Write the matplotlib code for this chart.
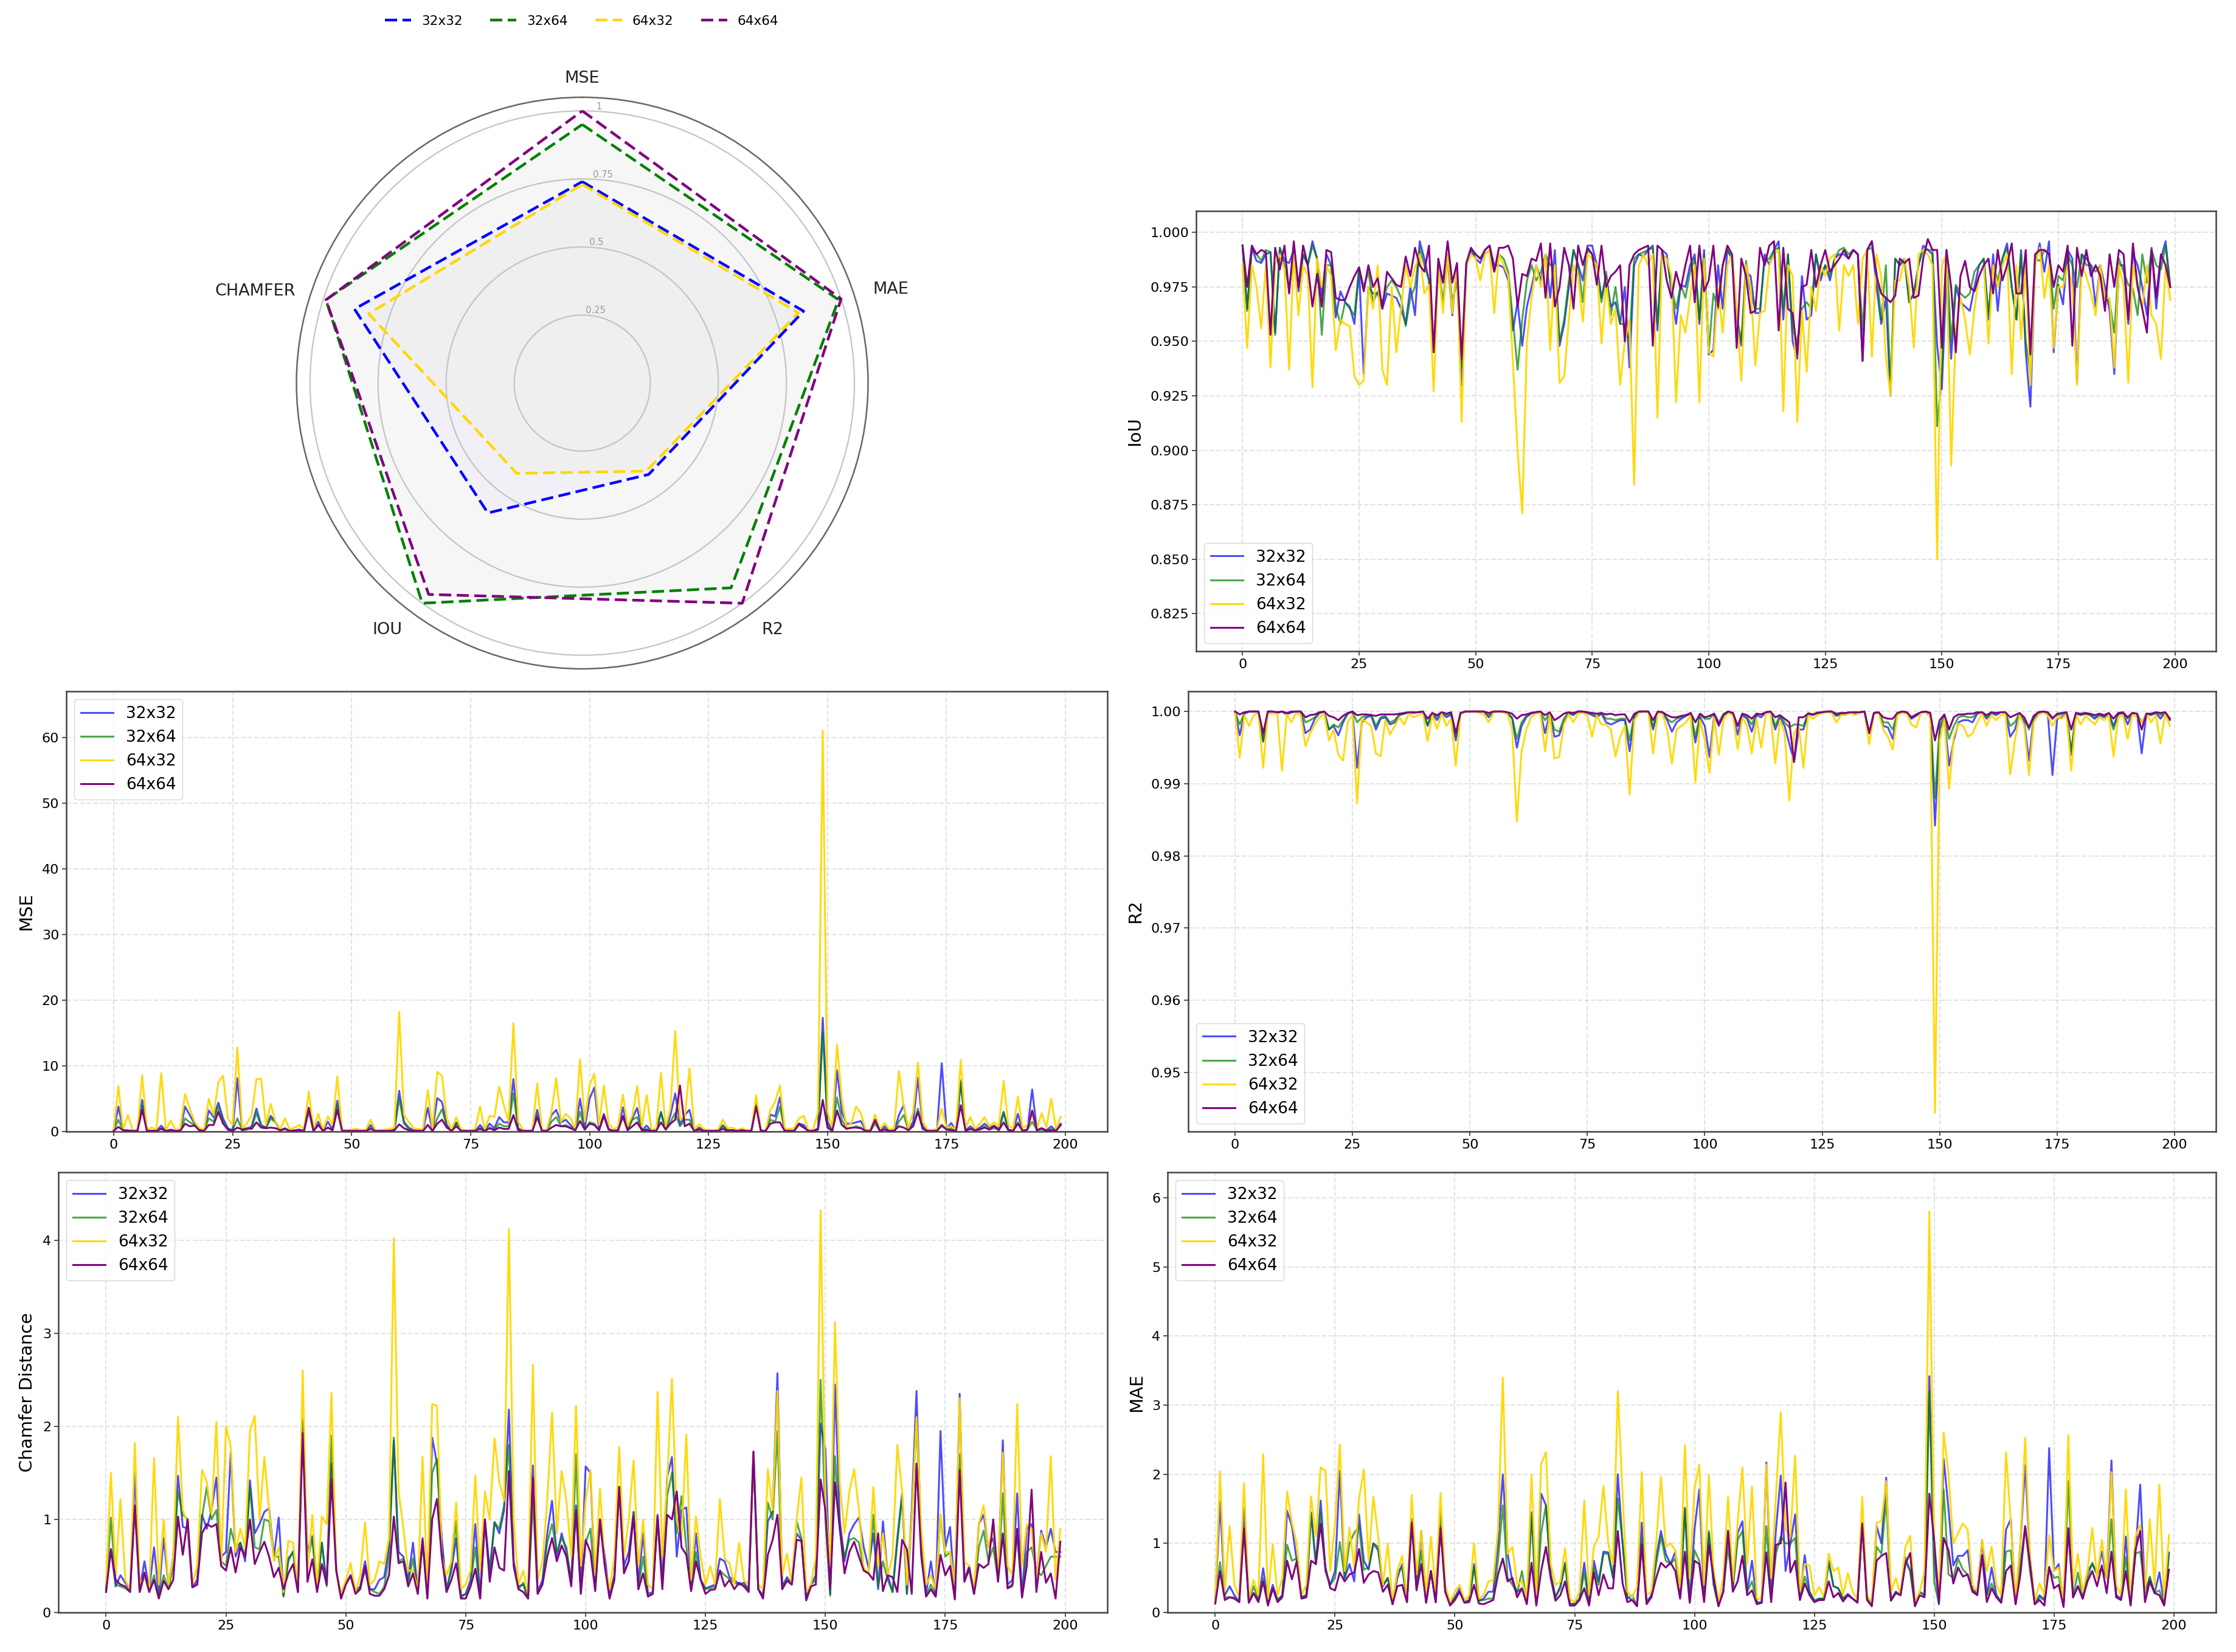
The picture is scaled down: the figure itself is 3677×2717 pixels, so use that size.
import numpy as np
import matplotlib
matplotlib.use("Agg")
import matplotlib.pyplot as plt
from matplotlib.lines import Line2D

W, H = 3677, 2717

names = ["32x32", "32x64", "64x32", "64x64"]
colors = ["blue", "green", "#FFD700", "purple"]
alphas = [0.7, 0.7, 0.95, 1.0]

# radar values
radar_labels = ["MSE", "MAE", "R2", "IOU", "CHAMFER"]
radar_3232 = [0.74, 0.855, 0.415, 0.59, 0.88]
radar_3264 = [0.95, 0.99, 0.93, 1.0, 0.99]
radar_6432 = [0.73, 0.835, 0.40, 0.41, 0.825]
radar_6464 = [1.0, 1.0, 1.0, 0.96, 0.99]

# MSE, in tenths
mse_3232 = [1,38,2,2,1,1,48,1,1,1, 9,1,3,1,1,38,25,12,2,1, 32,22,44,20,5,2,81,2,4,8, 35,10,6,24,15,2,5,1,2,3,
            1,36,1,15,1,15,3,47,2,1, 1,1,1,1,10,1,1,1,1,3, 62,15,6,2,1,1,36,1,51,45, 10,1,14,1,1,1,1,10,1,12,
            5,22,14,14,80,5,1,1,1,33, 1,1,25,33,14,18,10,2,50,5, 50,67,3,27,4,1,2,37,3,20, 36,2,9,1,1,30,3,25,58,10,
            25,33,1,6,2,1,1,1,8,2, 2,1,2,1,1,42,1,1,26,23, 52,1,1,1,12,10,1,1,5,173, 15,2,93,30,12,12,14,16,2,1,
            17,1,8,1,1,25,40,2,15,82, 8,1,1,1,104,4,13,1,75,2, 8,2,6,12,6,9,4,30,3,1, 27,1,3,64,2,5,2,8,1,12]
mse_3264 = [1,18,1,1,1,1,38,1,1,1, 5,1,2,1,1,20,14,10,2,1, 20,15,38,15,3,2,20,2,3,6, 28,8,5,20,14,2,4,1,1,2,
            1,30,1,10,1,6,2,40,2,1, 1,1,1,1,6,1,1,1,1,2, 50,12,4,1,1,1,10,1,20,34, 8,1,13,1,1,1,1,6,1,6,
            3,12,8,8,58,3,1,1,1,25, 1,1,15,22,8,10,6,2,30,3, 14,12,2,24,3,1,2,22,2,18, 22,2,4,1,1,28,3,15,28,8,
            18,18,1,4,1,1,1,1,10,2, 2,1,2,1,1,40,1,1,18,15, 38,1,1,1,10,6,1,1,3,150, 10,1,52,18,5,5,8,6,1,1,
            12,1,4,1,1,15,25,2,10,35, 5,1,1,1,8,3,5,1,78,2, 4,2,4,8,3,5,3,28,2,1, 14,1,3,15,2,3,1,4,1,10]
mse_6432 = [2,69,3,25,2,2,86,3,6,3, 89,2,17,2,5,57,35,15,5,3, 50,25,75,85,20,10,128,5,12,25, 80,80,10,42,15,3,20,3,6,10,
            3,61,3,27,3,23,10,84,3,2, 3,4,2,3,18,2,2,3,4,6, 182,25,15,5,4,3,63,5,91,84, 20,3,22,3,2,1,5,38,3,24,
            22,68,40,15,165,15,3,1,2,73, 3,2,30,81,15,27,20,4,110,15, 70,88,10,70,12,3,8,56,8,25, 69,8,55,3,4,89,8,35,153,20,
            20,96,3,11,4,2,2,3,18,5, 6,2,5,2,2,55,2,2,33,45, 70,5,4,5,20,24,2,3,30,610, 30,6,132,50,8,12,38,28,3,2,
            26,3,13,3,5,92,40,5,30,105, 15,3,2,4,35,6,8,3,109,5, 22,4,12,22,8,14,8,77,10,4, 53,5,10,25,5,28,6,50,4,22]
mse_6464 = [1,7,2,1,1,1,33,1,1,1, 4,1,2,1,1,12,8,9,2,1, 10,10,30,12,3,1,6,3,5,4, 14,6,5,6,5,2,4,1,1,2,
            1,36,1,10,1,6,2,33,1,1, 1,1,1,1,4,1,1,1,1,2, 11,5,2,1,1,1,10,1,12,18, 6,1,8,1,1,1,1,4,1,5,
            2,6,4,4,25,2,1,1,1,22, 1,1,6,10,8,8,5,2,16,3, 12,10,2,24,3,1,2,24,2,8, 14,2,2,1,1,14,3,12,18,70,
            8,12,1,3,1,1,1,1,4,1, 2,1,2,1,1,38,1,1,12,14, 14,1,1,1,12,6,1,1,3,48, 6,1,32,10,4,6,6,5,1,1,
            18,1,3,1,1,8,6,2,8,30, 4,1,1,1,10,3,2,1,40,1, 4,2,3,6,3,8,2,14,2,1, 12,1,3,32,2,5,1,2,1,10]

# IoU, in thousandths
iou_3232 = [994,965,993,987,986,990,991,954,993,987, 986,992,973,990,985,996,988,971,990,985, 961,973,968,966,958,983,935,975,972,972,
            965,972,971,970,965,958,975,962,996,988, 978,945,985,977,988,962,985,930,985,992, 988,986,992,994,985,985,984,978,955,968,
            948,966,975,985,978,990,970,992,948,958, 975,992,985,978,994,994,985,970,980,966, 968,958,975,938,985,990,989,992,994,955,
            992,990,973,958,976,975,985,990,958,992, 944,946,985,965,992,988,960,948,982,980, 963,963,990,985,992,996,960,990,950,942,
            980,960,962,990,978,985,978,988,990,990, 988,992,990,941,992,996,975,958,970,925, 988,985,988,968,972,985,994,992,990,948,
            928,980,942,975,968,966,964,975,985,988, 960,990,964,988,995,975,960,992,945,920, 985,995,982,996,945,976,967,992,988,931,
            990,988,985,966,985,975,964,935,985,985, 958,990,985,975,962,993,965,988,996,975]
iou_3264 = [994,964,993,990,987,992,991,953,993,985, 974,992,975,990,985,994,988,953,985,985, 966,958,968,965,962,984,975,982,968,973,
            968,975,978,975,970,957,970,975,993,985, 978,945,985,968,990,968,978,938,985,990, 990,988,990,992,982,990,988,982,960,937,
            960,978,985,978,982,990,985,985,950,960, 978,992,985,968,992,990,984,968,982,962, 975,958,958,950,988,990,991,992,993,958,
            990,988,975,965,976,970,982,988,960,990, 945,972,965,985,992,988,962,950,987,972, 965,965,988,988,992,993,965,990,955,950,
            965,968,965,990,980,985,980,988,992,993, 990,992,990,955,992,993,982,960,985,928, 988,985,988,968,972,985,992,992,992,911,
            935,992,950,976,972,970,972,982,985,988, 962,985,978,988,993,975,960,990,950,935, 988,987,992,990,965,980,978,990,985,975,
            990,985,985,982,985,970,968,954,988,982, 976,974,962,990,977,992,985,983,994,975]
iou_6432 = [985,947,985,975,956,985,938,985,990,983, 937,990,962,985,980,929,988,975,985,980, 946,960,958,957,934,930,932,975,965,985,
            937,930,975,945,965,985,975,984,990,972, 976,927,985,963,990,963,985,913,985,990, 988,978,990,992,963,990,985,980,940,900,
            871,950,970,985,975,990,946,985,931,934, 960,985,980,959,990,988,985,949,978,958, 965,930,950,960,884,985,990,985,990,915,
            990,988,980,922,962,954,970,985,922,988, 945,943,975,954,985,990,965,932,985,975, 939,963,964,985,990,992,918,985,980,913,
            964,936,975,964,985,980,988,990,955,985, 980,985,958,988,992,943,990,980,943,925, 978,978,988,975,947,990,992,990,985,850,
            985,990,893,955,970,960,944,965,980,985, 949,985,975,985,990,935,985,951,985,930, 985,993,970,985,947,975,975,985,975,930,
            985,980,972,962,985,970,970,938,985,975, 931,985,975,965,985,962,958,942,985,969]
iou_6464 = [994,975,994,990,992,991,953,993,983,994, 972,996,975,994,985,966,981,966,992,991, 970,969,969,975,980,984,973,985,975,979,
            965,982,979,976,975,989,980,993,985,982, 994,945,988,977,996,977,986,942,986,993, 990,988,992,994,982,993,993,994,988,966,
            981,980,988,987,995,970,995,966,975,993, 985,965,994,985,993,990,976,994,975,980, 982,985,950,985,990,992,993,994,948,994,
            992,978,970,982,974,985,994,968,994,973, 978,994,966,985,994,990,947,988,980,963, 964,993,985,994,996,955,993,965,963,944,
            975,976,992,975,985,992,982,985,988,992, 988,992,990,941,992,996,980,972,970,968, 971,988,986,988,970,971,988,997,992,992,
            947,992,975,945,980,987,975,973,980,985, 988,972,992,978,985,995,972,972,992,944, 990,992,992,990,975,985,982,994,948,993,
            980,992,980,985,980,964,990,975,992,990, 960,995,975,965,954,992,970,990,985,975]

# R2, as 1 - R2 in 1e-4
r2_3232 = [0,33,3,0,0,0,42,0,0,2, 0,4,1,0,0,30,25,10,2,0, 25,20,33,15,3,0,78,15,8,6, 25,10,8,18,15,5,3,1,2,1,
           0,20,3,12,2,8,4,40,3,0, 0,0,0,0,8,0,0,0,2,10, 50,20,8,3,1,0,30,2,35,33, 15,2,5,0,0,2,5,8,3,15,
           18,15,12,12,55,8,0,0,0,25, 0,1,12,28,15,10,6,3,43,8, 20,63,5,20,4,0,3,32,5,10, 28,5,8,1,0,25,8,20,45,70,
           25,25,3,5,2,1,0,0,6,4, 3,1,2,1,0,30,2,1,20,22, 38,2,0,1,10,6,1,0,3,158, 25,8,75,40,15,12,12,15,3,1,
           10,2,5,1,1,35,25,3,15,68, 10,2,0,2,88,10,8,2,60,3, 5,3,5,10,5,8,3,20,4,2, 18,2,3,58,3,5,2,10,1,12]
r2_3264 = [0,18,2,0,0,0,40,0,0,1, 0,3,1,0,0,15,12,8,2,0, 25,18,22,12,3,0,15,8,6,4, 20,8,6,15,12,4,3,1,1,1,
           0,18,2,8,1,5,3,35,2,0, 0,0,0,0,5,0,0,0,2,8, 38,15,6,2,1,0,12,2,25,28, 10,1,4,0,0,1,3,6,2,10,
           10,12,10,10,40,5,0,0,0,20, 0,1,10,15,10,8,5,2,35,5, 10,10,3,15,3,0,2,20,3,8, 18,3,4,1,0,20,5,15,22,18,
           18,20,2,4,1,1,0,0,5,3, 2,1,2,1,0,30,2,1,15,15, 25,2,0,1,8,5,1,0,2,120, 20,5,38,20,8,6,8,8,2,1,
           8,1,3,1,1,20,15,2,10,25, 8,1,0,1,8,5,4,1,55,2, 4,3,4,8,4,6,3,25,3,2, 10,2,3,15,3,4,1,5,1,10]
r2_6432 = [0,64,5,20,5,2,78,3,3,2, 82,4,15,2,5,48,30,18,8,3, 40,25,60,68,15,5,127,10,15,20, 58,62,12,32,20,8,18,3,8,5,
           2,41,5,24,3,20,10,75,4,1, 0,0,2,4,15,2,0,1,4,25, 152,55,25,8,3,2,55,3,65,63, 18,4,15,3,2,5,35,5,18,18,
           25,62,35,20,115,12,2,0,0,58, 2,3,25,72,25,20,15,5,98,12, 40,85,8,60,10,2,5,52,8,20, 58,10,50,3,2,72,12,30,123,30,
           20,78,5,10,5,2,1,2,15,5, 5,2,5,2,1,45,3,2,25,35, 53,5,2,3,18,22,1,2,8,556, 40,10,107,35,17,20,35,30,15,3,
           20,5,12,5,3,87,40,5,20,88, 15,5,1,5,20,8,10,3,82,4, 18,6,12,18,8,12,5,62,8,5, 38,4,8,15,3,15,5,44,3,20]
r2_6464 = [0,4,1,0,0,0,30,0,0,1, 0,2,0,0,0,8,5,4,1,0, 6,8,12,6,2,0,5,4,4,5, 6,4,4,4,4,3,2,1,1,1,
           0,10,2,5,1,3,1,30,2,0, 0,0,0,0,2,0,0,0,1,3, 10,5,4,2,1,0,5,1,12,8, 3,1,2,0,0,1,2,3,2,4,
           3,5,4,4,15,3,0,0,0,12, 0,1,5,8,8,6,5,2,15,3, 8,6,3,18,5,0,2,20,3,5, 10,3,4,1,0,8,5,10,15,70,
           8,8,3,4,2,1,0,0,3,2, 2,1,1,1,0,30,2,1,8,10, 10,2,0,1,8,4,1,0,2,40, 12,4,25,8,4,4,3,3,1,1,
           5,1,2,1,1,8,5,2,8,22, 6,1,0,1,10,3,2,1,25,2, 3,2,3,5,3,5,2,10,2,1, 8,2,3,25,3,3,1,2,1,10]

# Chamfer distance, in hundredths
chamfer_3232 = [25,68,28,40,32,25,150,25,55,25, 70,20,80,30,60,147,92,90,27,35, 105,90,110,145,60,65,172,60,75,55, 142,85,95,108,112,60,102,18,58,65,
                22,205,65,82,25,75,30,160,45,18, 32,40,22,28,55,25,25,35,38,70, 185,65,60,35,75,22,80,18,188,160, 80,25,45,80,18,20,35,95,18,100,
                45,97,85,110,218,55,28,30,15,158, 22,35,85,120,60,85,65,35,115,25, 157,150,30,100,60,18,40,135,50,65, 108,32,85,20,22,105,35,145,167,60,
                110,113,25,85,35,26,28,30,58,55, 38,35,30,32,25,172,25,18,98,108, 257,28,38,30,85,78,15,30,40,203, 175,20,245,100,55,85,95,102,70,48,
                85,25,98,40,22,80,128,20,110,238, 70,20,55,18,195,70,92,18,235,35, 50,20,95,105,70,80,35,185,30,35, 128,17,90,95,35,88,70,90,65,65]
chamfer_3264 = [25,102,30,28,26,22,115,22,40,22, 40,18,40,25,50,130,105,100,27,30, 102,135,100,110,55,50,90,70,75,60, 135,70,68,100,98,60,60,17,55,66,
                22,208,55,80,25,75,28,190,45,15, 32,38,22,28,45,25,22,20,28,60, 188,55,58,32,58,20,75,15,150,165, 70,22,50,98,16,20,30,70,15,98,
                40,97,90,115,180,50,25,32,15,120, 20,32,75,95,65,80,70,32,170,22, 75,90,25,98,50,15,40,135,45,55, 108,25,60,18,20,100,28,125,150,85,
                125,70,25,65,35,25,26,28,45,40, 36,32,30,30,25,172,25,17,118,100, 195,25,36,30,98,80,15,30,35,250, 100,18,168,90,60,78,80,75,45,42,
                105,28,55,35,22,75,125,20,100,208, 65,18,30,17,105,60,65,16,170,35, 45,20,70,88,55,70,35,128,26,28, 85,17,65,70,45,40,50,60,60,60]
chamfer_6432 = [30,150,40,122,35,25,182,30,40,25, 166,30,100,30,60,210,110,95,30,50, 153,140,105,205,50,200,178,65,90,70, 195,211,100,167,110,55,70,22,77,75,
                25,260,45,105,30,103,95,236,45,20, 35,53,22,40,97,30,35,55,52,80, 402,130,90,45,45,25,167,25,224,222, 60,40,55,118,25,30,45,147,45,130,
                100,187,140,120,412,100,30,45,20,266, 35,55,120,215,85,152,120,60,222,50, 120,153,40,133,50,25,60,178,60,100, 163,50,100,30,25,237,60,140,251,100,
                80,191,35,103,60,30,50,30,122,58, 53,30,75,35,30,172,30,25,154,110, 238,40,63,30,100,145,22,30,60,432, 120,50,312,140,85,130,154,110,48,42,
                135,50,85,40,60,180,130,30,100,210, 90,30,40,25,105,65,65,30,230,55, 50,25,95,115,70,90,40,172,50,40, 224,50,95,90,35,85,65,168,35,90]
chamfer_6464 = [22,68,35,30,28,22,115,22,43,22, 35,15,34,25,35,103,62,100,27,30, 85,95,92,95,50,45,70,43,70,60, 100,52,65,76,60,38,48,25,42,52,
                22,193,33,57,22,52,30,143,45,15, 30,40,20,25,50,20,18,18,25,40, 103,53,55,28,42,20,78,15,100,122, 60,22,35,53,15,15,28,47,15,100,
                33,70,48,45,152,50,25,22,15,145, 20,30,60,80,55,72,60,28,110,20, 78,65,23,100,50,15,35,135,42,55, 103,25,42,17,20,103,25,105,100,130,
                70,62,23,55,35,20,24,25,45,28, 35,25,32,28,22,173,25,15,62,78, 105,25,34,30,78,77,13,28,30,143, 110,25,140,90,42,65,76,60,45,42,
                35,85,23,40,38,22,78,68,20,160, 60,17,25,17,62,40,50,14,153,33, 48,20,52,48,52,100,33,85,26,30, 90,16,50,132,22,65,32,42,15,76]

# MAE, in hundredths
mae_3232 = [15,160,25,38,25,15,150,15,28,18, 64,15,40,18,25,147,125,75,22,25, 145,70,162,60,40,60,205,50,70,45, 142,75,62,100,90,38,50,12,50,70,
            15,135,35,118,15,60,15,125,30,12, 22,35,15,18,70,17,20,30,30,100, 200,85,45,30,35,15,145,12,172,155, 55,22,38,72,12,13,20,72,12,75,
            45,88,87,50,200,100,22,18,10,130, 15,25,80,118,85,70,88,25,150,15, 120,178,20,115,40,10,30,118,35,115, 132,30,75,15,14,217,20,120,198,60,
            100,142,20,83,30,17,20,20,75,38, 35,20,27,20,15,130,20,10,125,100, 195,18,30,25,75,60,10,30,25,342, 80,12,222,150,68,82,82,90,33,28,
            105,25,65,25,15,120,135,12,100,213, 80,12,25,18,238,60,70,10,120,22, 38,20,60,70,55,88,50,220,25,20, 110,12,85,185,28,50,28,58,12,87]
mae_3264 = [15,73,22,22,22,15,120,15,38,18, 50,12,35,18,25,98,75,78,22,25, 143,70,145,60,40,50,102,50,100,115, 125,62,65,100,95,40,50,12,60,65,
            15,132,35,90,15,60,15,150,30,12, 22,30,15,18,65,17,18,20,20,75, 155,50,40,28,60,15,140,12,115,155, 55,22,35,70,12,13,18,58,12,65,
            40,85,85,50,165,100,20,25,10,105, 15,22,70,110,75,70,78,25,152,15, 90,75,20,118,40,10,30,95,35,105, 118,30,45,15,14,125,20,85,110,100,
            100,108,20,52,30,17,20,20,72,38, 35,20,25,20,15,128,20,10,95,85, 165,18,30,25,80,60,10,30,25,320, 45,12,178,55,50,78,62,55,33,28,
            80,25,42,25,15,88,90,12,70,125, 60,12,22,18,65,50,52,10,190,22, 58,20,50,72,55,65,50,135,22,20, 80,12,85,88,28,52,28,32,12,85]
mae_6432 = [15,204,30,125,40,22,187,20,47,25, 229,20,99,25,50,175,130,100,25,40, 168,110,210,205,60,130,243,60,123,65, 165,207,75,167,110,40,100,15,60,82,
            20,170,55,118,25,110,30,173,40,15, 30,40,17,25,100,20,25,45,47,120, 340,85,95,40,45,20,199,25,215,232, 70,40,45,93,20,15,30,162,25,95,
            110,183,100,70,320,170,30,22,37,203, 25,30,100,196,95,100,90,35,242,50, 180,214,40,199,60,15,50,167,45,130, 210,70,182,20,20,214,50,170,290,120,
            110,227,30,70,68,25,37,22,85,60, 65,25,57,30,20,167,25,15,130,132, 190,30,50,25,95,111,15,30,60,580, 100,20,260,200,100,115,129,120,40,30,
            105,60,95,40,25,232,130,20,100,253, 80,15,42,25,112,60,65,15,257,40, 85,30,60,122,50,105,50,203,40,25, 178,20,110,127,30,135,40,185,20,112]
mae_6464 = [13,60,18,22,20,15,122,14,28,15, 45,10,35,15,22,75,48,74,20,22, 75,70,128,65,35,32,58,45,55,58, 92,43,55,60,58,30,40,12,38,40,
            15,130,32,70,14,60,15,122,30,10, 18,30,14,15,40,13,12,15,18,55, 78,45,50,22,35,12,72,10,60,95, 50,17,25,45,10,10,18,35,10,58,
            25,55,35,35,118,42,15,18,9,98, 12,22,50,72,65,72,60,20,88,14, 75,70,15,98,50,9,30,118,30,45, 82,25,32,12,14,87,15,98,100,188,
            58,75,18,42,25,15,18,18,45,22, 28,16,25,20,14,128,18,9,75,82, 86,17,28,25,70,86,9,25,22,172, 105,15,108,90,42,65,52,55,30,25,
            83,15,35,22,14,60,68,12,55,125, 70,12,18,10,66,35,40,8,122,22, 38,20,45,60,38,68,28,88,22,18, 60,10,90,118,15,45,28,25,10,62]

x_ticks = [0, 25, 50, 75, 100, 125, 150, 175, 200]


def axes_px(x0, y0, x1, y1):
    return [x0 / W, 1 - y1 / H, (x1 - x0) / W, (y1 - y0) / H]


def line_panel(rect, series, ylabel, ylim, yticks, yfmt, legend_loc):
    ax = fig.add_axes(axes_px(*rect))
    for vals, name, c, a in zip(series, names, colors, alphas):
        ax.plot(np.arange(len(vals)), vals, color=c, alpha=a, lw=2.2, label=name)
    ax.set_xlim(-9.95, 208.8)
    ax.set_ylim(*ylim)
    ax.set_xticks(x_ticks)
    ax.set_yticks(yticks)
    ax.set_yticklabels([yfmt % t for t in yticks])
    ax.tick_params(labelsize=16, length=5, width=1.2, color="#333333")
    ax.set_ylabel(ylabel, fontsize=21, labelpad=8)
    ax.grid(True, linestyle="--", color="#b0b0b0", alpha=0.35, lw=1.5)
    for sp in ax.spines.values():
        sp.set_linewidth(1.8)
        sp.set_color("#444444")
    ax.legend(loc=legend_loc, fontsize=19)
    return ax


fig = plt.figure(figsize=(W / 100, H / 100), dpi=100)

# radar, clockwise from the top
ax = fig.add_axes(axes_px(487, 160, 1428, 1100), polar=True)
ax.set_theta_offset(np.pi / 2)
ax.set_theta_direction(-1)
angles = np.linspace(0, 2 * np.pi, len(radar_labels), endpoint=False)
closed = np.append(angles, angles[0])
for vals, name, c in zip([radar_3232, radar_3264, radar_6432, radar_6464], names, colors):
    v = vals + vals[:1]
    ax.plot(closed, v, color=c, lw=3.2, dashes=(4.5, 2), label=name)
    ax.fill(closed, v, color=c, alpha=0.022)
ax.set_ylim(0, 1.05)
ax.set_xticks(angles)
ax.set_xticklabels([])
ax.xaxis.grid(False)
ax.set_rgrids([0.25, 0.5, 0.75, 1.0], ["0.25", "0.5", "0.75", "1"], angle=3, color="#999999", fontsize=10.5)
ax.yaxis.grid(True, color="#c4c4c4", lw=1.6)
ax.spines["polar"].set_color("#666666")
ax.spines["polar"].set_linewidth(1.8)

label_px = [(957, 129), (1465, 476), (1270, 1036), (637, 1036), (420, 479)]
for lab, (px, py) in zip(radar_labels, label_px):
    fig.text(px / W, 1 - py / H, lab, ha="center", va="center", fontsize=19.5, color="#222222")

handles = [Line2D([], [], color=c, lw=3.2, dashes=(4.5, 2)) for c in colors]
fig.legend(handles, names, loc="center", bbox_to_anchor=(957 / W, 1 - 35 / H), ncol=4,
           frameon=False, fontsize=15.5, columnspacing=2.1)

line_panel((1967, 347, 3644, 1071),
           [np.array(s) / 1000 for s in (iou_3232, iou_3264, iou_6432, iou_6464)],
           "IoU", (0.8077, 1.0099), [0.825, 0.85, 0.875, 0.9, 0.925, 0.95, 0.975, 1.0], "%.3f", "lower left")
line_panel((109, 1137, 1821, 1861),
           [np.array(s) / 10 for s in (mse_3232, mse_3264, mse_6432, mse_6464)],
           "MSE", (0, 67), [0, 10, 20, 30, 40, 50, 60], "%d", "upper left")
line_panel((1954, 1137, 3644, 1861),
           [1 - np.array(s) / 10000 for s in (r2_3232, r2_3264, r2_6432, r2_6464)],
           "R2", (0.9418, 1.0028), [0.95, 0.96, 0.97, 0.98, 0.99, 1.0], "%.2f", "lower left")
line_panel((96, 1928, 1821, 2652),
           [np.array(s) / 100 for s in (chamfer_3232, chamfer_3264, chamfer_6432, chamfer_6464)],
           "Chamfer Distance", (0, 4.73), [0, 1, 2, 3, 4], "%d", "upper left")
line_panel((1920, 1928, 3644, 2652),
           [np.array(s) / 100 for s in (mae_3232, mae_3264, mae_6432, mae_6464)],
           "MAE", (0, 6.37), [0, 1, 2, 3, 4, 5, 6], "%d", "upper left")

fig.savefig("out.png", dpi=100)
